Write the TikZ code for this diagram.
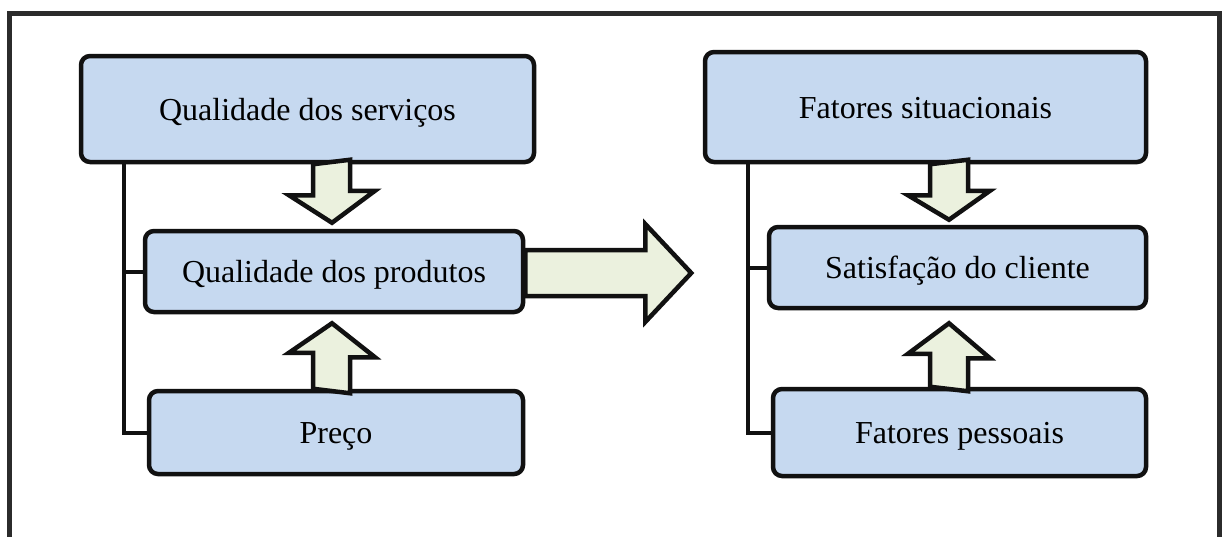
\documentclass[tikz,border=0pt]{standalone}
\usepackage{fontspec}
\setmainfont{Liberation Serif}
\usetikzlibrary{calc}
\definecolor{boxfill}{HTML}{C6D9F0}
\definecolor{arrfill}{HTML}{EBF1DE}
\definecolor{framecol}{HTML}{2B2B2B}
\definecolor{linecol}{HTML}{111111}
\begin{document}
\begin{tikzpicture}[x=1pt,y=-1pt,
  box/.style={draw=linecol,fill=boxfill,line width=4.5pt,rounded corners=9pt,inner sep=0pt,text height=28pt,text depth=6pt,font=\fontsize{32}{38}\selectfont},
  blk/.style={draw=linecol,fill=arrfill,line width=4.5pt,line join=miter},
  conn/.style={draw=linecol,line width=4pt}]
\useasboundingbox (0,0) rectangle (1222,536);
\draw[framecol,line width=5pt] (9,540) -- (9,13) -- (1219,13) -- (1219,540);

% left column
\node[box,minimum width=453pt,minimum height=106pt] (L1) at (307.5,109) {Qualidade dos serviços};
\node[box,minimum width=378pt,minimum height=81pt] (L2) at (334,271.5) {Qualidade dos produtos};
\node[box,minimum width=374pt,minimum height=83pt] (L3) at (336,432.5) {Preço};

% right column
\node[box,minimum width=441pt,minimum height=110pt] (R1) at (925.5,107) {Fatores situacionais};
\node[box,minimum width=377pt,minimum height=81pt] (R2) at (957.5,267.5) {Satisfação do cliente};
\node[box,minimum width=373pt,minimum height=87pt] (R3) at (959.5,432.5) {Fatores pessoais};

% bracket connectors
\coordinate (lj) at ($(L1.south west)+(45,0)$);
\draw[conn] (lj) |- (L3.west);
\draw[conn] (lj |- L2.west) -- (L2.west);
\coordinate (rj) at ($(R1.south west)+(45,0)$);
\draw[conn] (rj) |- (R3.west);
\draw[conn] (rj |- R2.west) -- (R2.west);

% block arrows, left
\draw[blk] ($(L1.south -| L2.north)+(-21,0)$) -- ++(0,31) -- ++(-24,0)
  -- ($(L2.north)+(-2,-6)$) -- ++(43,-32) -- ++(-25,0) -- ++(0,-31) -- cycle;
\draw[blk] ($(L3.north -| L2.south)+(-21,0)$) -- ++(0,-36) -- ++(-24,0)
  -- ($(L2.south)+(-2,9)$) -- ++(43,34) -- ++(-25,0) -- ++(0,36) -- cycle;

% big arrow
\draw[blk] ($(L2.east)+(0,-21.5)$) -- ++(120,0) -- ++(0,-26) -- ++(46,49)
  -- ++(-46,49) -- ++(0,-26) -- ++(-120,0) -- cycle;

% block arrows, right
\draw[blk] ($(R1.south -| R2.north)+(-27.5,0)$) -- ++(0,31) -- ++(-22,0)
  -- ($(R2.north)+(-8.5,-5)$) -- ++(41,-29) -- ++(-22,0) -- ++(0,-31) -- cycle;
\draw[blk] ($(R3.north -| R2.south)+(-27.5,0)$) -- ++(0,-33) -- ++(-22,0)
  -- ($(R2.south)+(-8.5,13)$) -- ++(41,35) -- ++(-22,0) -- ++(0,33) -- cycle;
\end{tikzpicture}
\end{document}
